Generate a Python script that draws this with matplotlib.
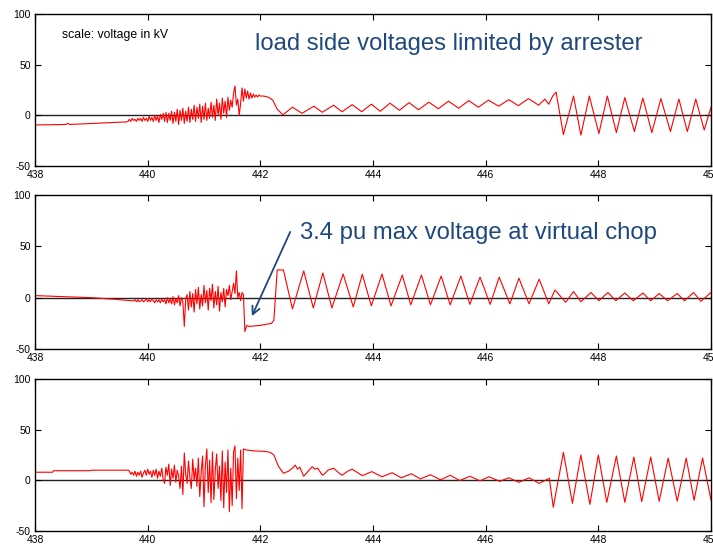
import numpy as np
import matplotlib
matplotlib.use("Agg")
import matplotlib.pyplot as plt

plt.rcParams["font.family"] = ["Liberation Sans", "DejaVu Sans"]
plt.rcParams["axes.unicode_minus"] = False

X_MIN, X_MAX = 438, 450
Y_MIN, Y_MAX = -50, 100
X_TICKS = [438, 440, 442, 444, 446, 448, 450]
Y_TICKS = [-50, 0, 50, 100]
NOISE_STEP = 0.025   # sample spacing of the noisy stretch

TITLE_TEXT = "load side voltages limited by arrester"
SCALE_TEXT = "scale: voltage in kV"
CHOP_TEXT = "3.4 pu max voltage at virtual chop"
NOTE_COLOR = "#1f497d"

# --- panel 1 -------------------------------------------------------------
P1_HEAD_T = [438.0, 438.55, 438.58, 438.62, 439.2, 439.62]
P1_HEAD_V = [-9.5, -9.0, -8.0, -9.0, -7.5, -6.5]
P1_NOISE_T0 = 439.65
P1_NOISE_V = [
    -6, -4, -6, -3, -5, -4, -6, -3, -5, -3,
    -6, -2, -5, -3, -6, -1, -5, -2, -6, 0,
    -5, -1, -7, 1, -4, 2, -6, 3, -7, 2,
    -5, 4, -8, 3, -6, 6, -9, 5, -5, 7,
    -8, 4, -6, 8, -7, 6, -4, 10, -6, 8,
    -3, 11, -7, 9, -4, 12, -5, 7, -3, 13,
    -2, 10, -5, 16, 0, 12, -4, 17, 2, 14,
    -2, 18, 5, 15, 8, 22, 29, 10, 16, 0,
    12, 27, 14, 26, 17, 24, 16, 22, 17, 21,
    18, 20, 18, 20, 19,
]
P1_TAIL_T = [442.06, 442.14, 442.22, 442.30, 442.40, 442.57, 442.74, 442.95, 443.10, 443.30,
             443.45, 443.63, 443.80, 443.97, 444.13, 444.30, 444.47, 444.64, 444.81, 444.99,
             445.16, 445.34, 445.52, 445.70, 445.87, 446.05, 446.23, 446.41, 446.58, 446.76,
             446.94, 447.05, 447.12, 447.19, 447.25, 447.38, 447.56, 447.69, 447.84, 448.01,
             448.16, 448.32, 448.47, 448.64, 448.79, 448.95, 449.11, 449.28, 449.43, 449.58,
             449.73, 449.88, 450.0]
P1_TAIL_V = [19, 18, 15, 6, 0.5, 8, 2, 9, 3, 10,
             3.5, 10.5, 3.6, 11, 4, 12, 5, 12.5, 5.5, 13,
             6.5, 14, 7, 14.5, 8, 15, 9, 15.5, 9.5, 16.5,
             10, 16, 11, 19, 23, -19, 19, -19.5, 19, -18,
             19, -17, 17.5, -16, 17, -17, 16.5, -16, 16, -16,
             16, -14.5, 8]

# --- panel 2 -------------------------------------------------------------
P2_HEAD_T = [438.0, 438.5, 439.0, 439.4, 439.72]
P2_HEAD_V = [2, 1, 0, -1.5, -3]
P2_NOISE_T0 = 439.75
P2_NOISE_V = [
    -3, -2, -4, -2, -4, -3, -2, -4, -3, -1,
    -4, -2, -4, -1, -3, -5, -2, -4, -2, -5,
    -1, -4, -2, -6, 0, -5, -1, -6, 1, -7,
    -1, -5, 2, -8, 0, -4, -28, -2, 3, -12,
    6, -9, 4, -14, 8, -6, 10, -11, 3, -8,
    12, -5, 7, -12, 9, -3, 13, -10, 6, -7,
    11, -13, 5, -4, 9, -9, 8, 2, 12, -2,
    6, 14, 4, 26, 0, 5, -3, 5, 3, -33,
]
P2_TAIL_T = [441.76, 441.80, 442.0, 442.20, 442.24, 442.30, 442.41, 442.57, 442.77, 442.94,
             443.11, 443.27, 443.47, 443.65, 443.81, 443.97, 444.16, 444.32, 444.52, 444.67,
             444.86, 445.02, 445.21, 445.37, 445.56, 445.72, 445.90, 446.08, 446.24, 446.43,
             446.59, 446.77, 446.95, 447.12, 447.23, 447.42, 447.56, 447.69, 447.87, 448.01,
             448.17, 448.31, 448.47, 448.62, 448.79, 448.93, 449.08, 449.23, 449.40, 449.53,
             449.69, 449.82, 450.0]
P2_TAIL_V = [-27, -28, -27, -25, -22, 27, 27, -11, 26, -10,
             24, -10, 23, -9, 22.8, -8, 23, -8, 22, -7,
             22, -7, 21, -7, 21, -6.5, 20, -6.5, 20, -6,
             19, -6, 18, -6, 7.5, -4.5, 6, -4, 5, -3,
             5, -3, 4.5, -3, 4.5, -3, 4, -3, 4, -3,
             5, -3.5, 5]

# --- panel 3 -------------------------------------------------------------
P3_HEAD_T = [438.0, 438.31, 438.33, 438.97, 439.0, 439.66]
P3_HEAD_V = [8, 8, 9.5, 9.5, 10, 10]
P3_NOISE_T0 = 439.675
P3_NOISE_V = [
    9, 6, 8, 5, 9, 4, 8, 5, 9, 3,
    7, 10, 5, 11, 6, 9, 3, 10, 5, 11,
    2, 9, 4, 12, 1, -3, 13, 5, 16, -5,
    11, 2, 15, -2, 10, 4, -8, 14, -14, 27,
    6, -3, 19, 2, -8, 21, 0, 12, -6, 22,
    -16, 8, 24, -26, 15, 31, -12, 20, -22, 28,
    -19, 10, 26, -8, 14, -20, 29, -27, 18, -12,
    30, -31, 12, -25, 28, 34, -18, 22, -10, 30,
    -28, 31,
]
P3_TAIL_T = [441.75, 441.90, 442.10, 442.18, 442.24, 442.32, 442.41, 442.50, 442.57, 442.62,
             442.66, 442.70, 442.77, 442.85, 442.92, 442.97, 443.02, 443.10, 443.15, 443.20,
             443.30, 443.38, 443.45, 443.55, 443.63, 443.81, 443.98, 444.16, 444.34, 444.50,
             444.68, 444.84, 445.02, 445.20, 445.37, 445.54, 445.72, 445.90, 446.06, 446.25,
             446.41, 446.59, 446.77, 446.95, 447.13, 447.20, 447.38, 447.54, 447.69, 447.85,
             448.0, 448.15, 448.32, 448.47, 448.63, 448.77, 448.93, 449.08, 449.24, 449.40,
             449.56, 449.70, 449.85, 450.0]
P3_TAIL_V = [30, 29, 28.5, 27.5, 25, 14, 7, 9, 12, 15,
             11, 13, 4, 9, 13.5, 11, 12, 5, 7, 10,
             12, 8, 5, 9, 11, 4.6, 8.6, 3.5, 7.5, 2.5,
             6.5, 1.4, 5.5, 0.5, 5, -0.2, 4, -0.5, 3.5, -1,
             2.5, -2, 2.5, -3, 2, -26.6, 27.6, -22.7, 25, -23.7,
             25, -21.7, 24, -21.7, 23, -21, 23, -20.7, 22, -20.5,
             22, -19.7, 22, -19.5]


def build_series(head_t, head_v, noise_t0, noise_v, tail_t, tail_v):
    noise_t = noise_t0 + NOISE_STEP * np.arange(len(noise_v))
    t = np.concatenate([head_t, noise_t, tail_t])
    v = np.concatenate([head_v, noise_v, tail_v])
    return t, v


def style_axis(ax):
    ax.set_xlim(X_MIN, X_MAX)
    ax.set_ylim(Y_MIN, Y_MAX)
    ax.set_xticks(X_TICKS)
    ax.set_yticks(Y_TICKS)
    ax.tick_params(direction="in", top=True, right=True, length=4, width=0.8,
                   labelsize=7.5, pad=3)
    for sp in ax.spines.values():
        sp.set_linewidth(1.0)
    ax.axhline(0, color="#222222", lw=1.0, zorder=1)


W, H = 713, 548
fig = plt.figure(figsize=(W / 100, H / 100), dpi=100)

# axes boxes in pixels: (top, bottom)
boxes = [(14, 166), (195, 349), (379, 531)]
left_px, right_px = 35, 711
series = [
    build_series(P1_HEAD_T, P1_HEAD_V, P1_NOISE_T0, P1_NOISE_V, P1_TAIL_T, P1_TAIL_V),
    build_series(P2_HEAD_T, P2_HEAD_V, P2_NOISE_T0, P2_NOISE_V, P2_TAIL_T, P2_TAIL_V),
    build_series(P3_HEAD_T, P3_HEAD_V, P3_NOISE_T0, P3_NOISE_V, P3_TAIL_T, P3_TAIL_V),
]

axes = []
for (top, bot), (t, v) in zip(boxes, series):
    ax = fig.add_axes([left_px / W, 1 - bot / H, (right_px - left_px) / W, (bot - top) / H])
    style_axis(ax)
    ax.plot(t, v, color="red", lw=0.8, zorder=2)
    axes.append(ax)

ax1, ax2, ax3 = axes
ax1.text(438.48, 79, SCALE_TEXT, fontsize=8.8, va="center", ha="left")
ax1.text(441.9, 70, TITLE_TEXT, fontsize=17.2, color=NOTE_COLOR, va="center", ha="left")

ax2.text(442.7, 63, CHOP_TEXT, fontsize=17.2, color=NOTE_COLOR, va="center", ha="left")
ax2.annotate("", xy=(441.85, -18), xytext=(442.53, 64),
             arrowprops=dict(arrowstyle="->", color=NOTE_COLOR, lw=1.3,
                             mutation_scale=14, shrinkA=0, shrinkB=0))

# the 450 tick label runs past the right edge, as in the source image
fig.savefig("out.png", dpi=100)
